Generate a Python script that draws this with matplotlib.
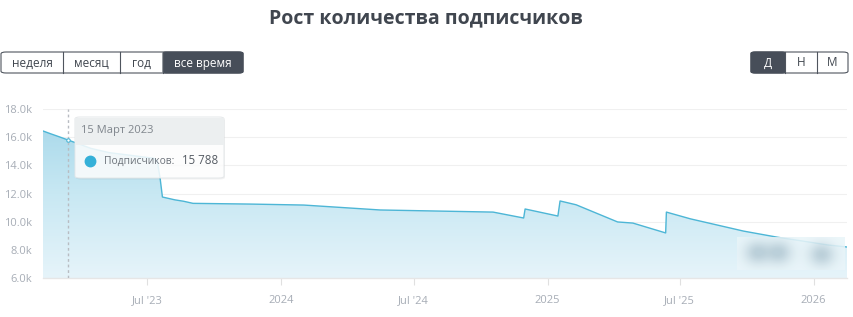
import matplotlib
matplotlib.use("Agg")
import matplotlib.pyplot as plt
import matplotlib.dates as mdates
from matplotlib.patches import FancyBboxPatch, Rectangle, Polygon
from matplotlib.colors import LinearSegmentedColormap
import numpy as np
import pandas as pd

plt.rcParams['font.family'] = ['Open Sans', 'DejaVu Sans']

# ---------------- data ----------------
dates = ["2023-02-08", "2023-02-18", "2023-03-01", "2023-03-15", "2023-04-15",
         "2023-05-10", "2023-06-10", "2023-07-10", "2023-07-15", "2023-07-19",
         "2023-07-22", "2023-08-08", "2023-08-20", "2023-09-02", "2023-11-19",
         "2024-02-01", "2024-05-16", "2024-10-18", "2024-11-29", "2024-12-01",
         "2025-01-15", "2025-01-18", "2025-02-09", "2025-04-07", "2025-04-28",
         "2025-06-12", "2025-06-13", "2025-07-16", "2025-09-27", "2025-11-12",
         "2025-12-20", "2026-01-20", "2026-02-16"]
subscribers = [16440, 16250, 16050, 15788, 15200,
               14900, 14700, 14500, 14300, 13000,
               11750, 11550, 11450, 11300, 11250,
               11180, 10830, 10680, 10260, 10900,
               10400, 11470, 11200, 9980, 9900,
               9200, 10680, 10200, 9330, 8900,
               8600, 8350, 8200]
y_ticks = [6000, 8000, 10000, 12000, 14000, 16000, 18000]
y_tick_labels = ["6.0k", "8.0k", "10.0k", "12.0k", "14.0k", "16.0k", "18.0k"]
x_tick_dates = ["2023-07-01", "2024-01-01", "2024-07-01", "2025-01-01", "2025-07-01", "2026-01-01"]
x_tick_labels = ["Jul '23", "2024", "Jul '24", "2025", "Jul '25", "2026"]
title = "Рост количества подписчиков"
range_buttons = ["неделя", "месяц", "год", "все время"]
period_buttons = ["Д", "Н", "М"]
tooltip_date = "2023-03-15"
tooltip_title = "15 Март 2023"
tooltip_label = "Подписчиков:"
tooltip_value = 15788

# ---------------- figure ----------------
W, H = 854, 317
fig = plt.figure(figsize=(W / 100, H / 100), dpi=100)

def fx(px):
    return px / W

def fy(py):
    return 1 - py / H

left_px, right_px, top_px, bot_px = 43, 847, 109, 278
ax = fig.add_axes([fx(left_px), fy(bot_px), fx(right_px - left_px), (bot_px - top_px) / H])

x = pd.to_datetime(dates)
xn = mdates.date2num(x)
y = np.array(subscribers, dtype=float)

ax.set_xlim(xn[0], xn[-1])
ax.set_ylim(6000, 18000)

# gradient fill clipped to area under curve
cmap = LinearSegmentedColormap.from_list("g", ["#e6f4fa", "#c8e8f3", "#a3d6e9"])
grad = np.linspace(0, 1, 256).reshape(-1, 1)
im = ax.imshow(grad, extent=[xn[0], xn[-1], 6000, 18000], origin="lower",
               cmap=cmap, aspect="auto", zorder=1)
poly_pts = np.column_stack([np.concatenate([[xn[0]], xn, [xn[-1]]]),
                            np.concatenate([[6000], y, [6000]])])
poly = Polygon(poly_pts, closed=True, transform=ax.transData, facecolor="none", edgecolor="none")
ax.add_patch(poly)
im.set_clip_path(poly)

ax.plot(xn, y, color="#4db6d6", lw=1.0, zorder=3)

# grid
ax.set_yticks(y_ticks)
ax.set_yticklabels(y_tick_labels)
for yt in y_ticks[1:]:
    ax.axhline(yt, color="#f0f0f0", lw=0.8, zorder=0)
ax.set_xticks(mdates.date2num(pd.to_datetime(x_tick_dates)))
ax.set_xticklabels(x_tick_labels)

for s in ["top", "right", "left"]:
    ax.spines[s].set_visible(False)
ax.spines["bottom"].set_color("#e6e6e6")
ax.spines["bottom"].set_linewidth(1.0)
ax.tick_params(axis="y", length=0, pad=8, labelsize=8, labelcolor="#a7adb6")
ax.tick_params(axis="x", length=5, width=0.8, color="#e0e0e0", pad=7, labelsize=8, labelcolor="#a7adb6")
ax.set_facecolor("none")

# crosshair
tx = mdates.date2num(pd.Timestamp(tooltip_date))
ax.axvline(tx, ymin=0, ymax=1, color="#b8bcc2", lw=1.0, ls=(0, (2, 2)), zorder=4)
ax.plot([tx], [tooltip_value], marker="o", ms=2.5, color="white", mec="#4db6d6", mew=0.8, zorder=5)

# blurred overlay near the end
bx0, bx1, by0, by1 = 737, 845, 237, 270
nx, ny = 120, 40
gx = np.linspace(bx0, bx1, nx)
gy = np.linspace(by0, by1, ny)
GX, GY = np.meshgrid(gx, gy)
blob = np.zeros_like(GX)
for cx, cy, r in [(757, 253, 9), (779, 253, 9), (822, 255, 9)]:
    blob += np.exp(-(((GX - cx) ** 2) / (2 * r ** 2) + ((GY - cy) ** 2) / (2 * (r * 0.9) ** 2)))
blob = np.clip(blob, 0, 1)
rgba = np.zeros((ny, nx, 4))
base = np.array([0.92, 0.965, 0.98])
dark = np.array([0.72, 0.80, 0.84])
for c in range(3):
    rgba[..., c] = base[c] * (1 - blob) + dark[c] * blob
rgba[..., 3] = 0.88
ov = fig.add_axes([fx(bx0), fy(by1), fx(bx1 - bx0), (by1 - by0) / H], zorder=5)
ov.imshow(rgba, aspect="auto", extent=[0, 1, 0, 1])
ov.axis("off")

# title
fig.text(fx(426), fy(18), title, ha="center", va="center", fontsize=14,
         fontweight="bold", color="#40464f")

# buttons
def button_group(labels, x0, edges, ytop, ybot, active):
    h = (ybot - ytop) / H
    outer = FancyBboxPatch((fx(x0), fy(ybot)), fx(edges[-1] - x0), h,
                           boxstyle="round,pad=0,rounding_size=0.006",
                           transform=fig.transFigure, facecolor="white",
                           edgecolor="#4f555e", lw=0.8, zorder=2)
    fig.add_artist(outer)
    xs = [x0] + edges
    for i, lab in enumerate(labels):
        a, b = xs[i], xs[i + 1]
        if i == active:
            r = FancyBboxPatch((fx(a), fy(ybot)), fx(b - a), h,
                               boxstyle="round,pad=0,rounding_size=0.004",
                               transform=fig.transFigure, facecolor="#474e59",
                               edgecolor="#474e59", lw=0.8, zorder=3)
            fig.add_artist(r)
            col = "white"
        else:
            col = "#40464f"
        if 0 < i:
            fig.add_artist(plt.Line2D([fx(a), fx(a)], [fy(ybot), fy(ytop)],
                                      transform=fig.transFigure, color="#4f555e", lw=0.8, zorder=4))
        fig.text(fx((a + b) / 2), fy((ytop + ybot) / 2 + 0.5), lab, ha="center", va="center",
                 fontsize=8.5, color=col, zorder=5)

button_group(range_buttons, 1, [63, 120, 163, 243], 52, 73, 3)
button_group(period_buttons, 751, [785, 817, 848], 52, 73, 0)

# tooltip
tx0, tx1, ty0, ty1, thead = 75, 224, 117, 178, 145
shadow = FancyBboxPatch((fx(tx0 + 1), fy(ty1 + 1.5)), fx(tx1 - tx0), (ty1 - ty0) / H,
                        boxstyle="round,pad=0,rounding_size=0.006", transform=fig.transFigure,
                        facecolor="#000000", alpha=0.05, edgecolor="none", zorder=10)
fig.add_artist(shadow)
body = FancyBboxPatch((fx(tx0), fy(ty1)), fx(tx1 - tx0), (ty1 - ty0) / H,
                      boxstyle="round,pad=0,rounding_size=0.006", transform=fig.transFigure,
                      facecolor="white", alpha=0.85, edgecolor="#e3e6e8", lw=0.8, zorder=11)
fig.add_artist(body)
head = Rectangle((fx(tx0 + 0.5), fy(thead)), fx(tx1 - tx0 - 1), (thead - ty0 - 1) / H,
                 transform=fig.transFigure, facecolor="#eceff0", edgecolor="none", zorder=12)
fig.add_artist(head)
fig.text(fx(81), fy(130), tooltip_title, ha="left", va="center", fontsize=8, color="#80868d", zorder=13)
fig.add_artist(plt.Line2D([fx(90)], [fy(161)], marker="o", ms=7.5, color="#35b0d8",
                          transform=fig.transFigure, zorder=13))
fig.text(fx(104), fy(161), tooltip_label, ha="left", va="center", fontsize=7.4, color="#6c727a", zorder=13)
fig.text(fx(182), fy(161), f"{tooltip_value:,}".replace(",", " "), ha="left", va="center",
         fontsize=8.3, color="#555b63", zorder=13)

fig.savefig("out.png", dpi=100)
